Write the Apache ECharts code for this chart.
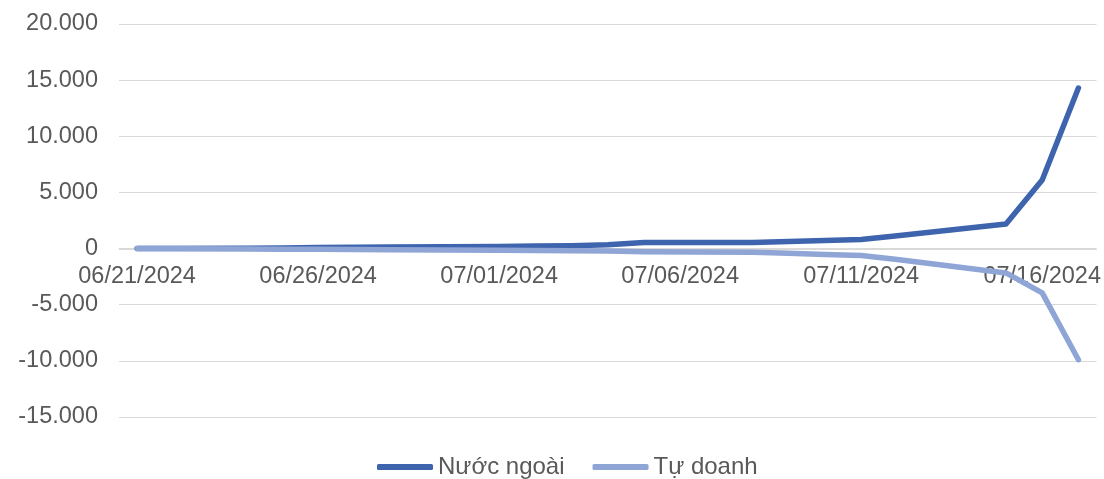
<!DOCTYPE html>
<html>
<head>
<meta charset="utf-8">
<style>
  html, body { margin: 0; padding: 0; background: #fff; }
  #main { width: 1104px; height: 479px; }
</style>
<script src="https://cdn.jsdelivr.net/npm/echarts@6/dist/echarts.min.js"></script>
</head>
<body>
<div id="main"></div>
<script>
// calendar days on the axis; weekends have no value (null)
var days = [
  '06/21/2024', '06/22/2024', '06/23/2024', '06/24/2024', '06/25/2024', '06/26/2024', '06/27/2024',
  '06/28/2024', '06/29/2024', '06/30/2024', '07/01/2024', '07/02/2024', '07/03/2024', '07/04/2024',
  '07/05/2024', '07/06/2024', '07/07/2024', '07/08/2024', '07/09/2024', '07/10/2024', '07/11/2024',
  '07/12/2024', '07/13/2024', '07/14/2024', '07/15/2024', '07/16/2024', '07/17/2024'
];
var nuocNgoai = [
  0, null, null, 30, 60, 90, 120,
  150, null, null, 190, 220, 260, 330,
  540, null, null, 550, 630, 720, 800,
  1150, null, null, 2180, 6100, 14300
];
var tuDoanh = [
  0, null, null, -30, -50, -70, -90,
  -110, null, null, -150, -170, -190, -220,
  -280, null, null, -320, -420, -520, -620,
  -980, null, null, -2170, -3950, -9900
];
var yTicks = [-15000, -10000, -5000, 0, 5000, 10000, 15000, 20000];

function fmt(v) {
  return String(v).replace(/\B(?=(\d{3})+(?!\d))/g, '.');
}

var chart = echarts.init(document.getElementById('main'));

// plot area: top 24, bottom 417 -> zero line sits 168px above the bottom edge
chart.setOption({
  animation: false,
  textStyle: { fontFamily: 'Liberation Sans, Arial, sans-serif' },
  grid: { left: 119, right: 7, top: 24, bottom: 62 },
  legend: {
    left: 372,
    top: 450,
    icon: 'roundRect',
    itemWidth: 56,
    itemHeight: 6,
    itemGap: 28,
    textStyle: { color: '#595959', fontSize: 24 },
    data: ['Nước ngoài', 'Tự doanh']
  },
  xAxis: {
    type: 'category',
    data: days,
    boundaryGap: true,
    position: 'bottom',
    offset: -168,
    axisLine: { onZero: false, lineStyle: { color: '#d9d9d9', width: 1 } },
    axisTick: { interval: 4, length: 7, lineStyle: { color: '#d9d9d9' } },
    axisLabel: { interval: 4, color: '#595959', fontSize: 23.5, margin: 16 },
    splitLine: { show: false }
  },
  yAxis: {
    type: 'value',
    min: yTicks[0],
    max: yTicks[yTicks.length - 1],
    interval: 5000,
    axisLine: { show: false },
    axisTick: { show: false },
    axisLabel: { color: '#595959', fontSize: 23.5, margin: 21, formatter: fmt },
    splitLine: { lineStyle: { color: '#d9d9d9', width: 1 } }
  },
  series: [
    {
      name: 'Nước ngoài',
      type: 'line',
      data: nuocNgoai,
      connectNulls: true,
      symbol: 'none',
      color: '#3e64ae',
      z: 5,
      lineStyle: { width: 5.5, cap: 'round', join: 'round' }
    },
    {
      name: 'Tự doanh',
      type: 'line',
      data: tuDoanh,
      connectNulls: true,
      symbol: 'none',
      color: '#8ea5d6',
      z: 5,
      lineStyle: { width: 5.5, cap: 'round', join: 'round' }
    }
  ]
});
</script>
</body>
</html>
